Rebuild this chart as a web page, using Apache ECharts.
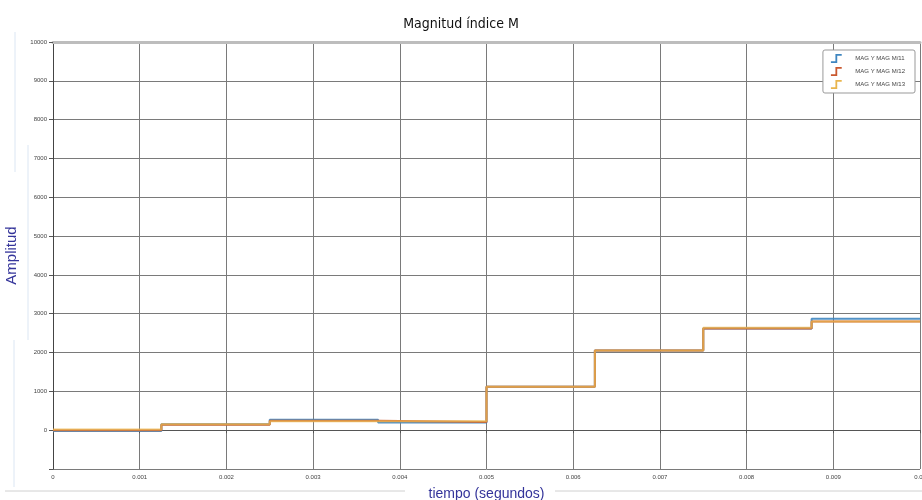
<!DOCTYPE html>
<html>
<head>
<meta charset="utf-8">
<script src="https://cdn.jsdelivr.net/npm/echarts@6/dist/echarts.min.js"></script>
<style>html,body{margin:0;padding:0;background:#fff}#c{width:922px;height:500px}</style>
</head>
<body>
<div id="c"></div>
<script>
// ---- data ----
const times = [0, 0.00125, 0.0025, 0.00375, 0.005, 0.00625, 0.0075, 0.00875, 0.01];
const seriesNames = ['MAG Y MAG M/11', 'MAG Y MAG M/12', 'MAG Y MAG M/13'];
const magM11 = [-20, 150, 270, 200, 1120, 2050, 2620, 2870, 2870];
const magM12 = [0, 140, 240, 210, 1120, 2050, 2620, 2800, 2800];
const magM13 = [20, 150, 230, 230, 1120, 2050, 2640, 2800, 2800];
const titleText = 'Magnitud índice M';
const xName = 'tiempo (segundos)';
const yName = 'Amplitud';

const colors = ['#3f86c0', '#c9582f', '#e9b54d'];
const allValues = [magM11, magM12, magM13];

const chart = echarts.init(document.getElementById('c'), null, {renderer: 'canvas'});
const stepIcon = 'path://M0,9 L5,9 L5,1 L12,1 L12,3 L7,3 L7,11 L0,11 Z';

chart.setOption({
  backgroundColor: '#fff',
  animation: false,
  color: colors,
  title: {
    text: titleText, left: 'center', top: 12,
    textStyle: {fontFamily: 'DejaVu Sans Condensed, Liberation Sans, Arial', fontSize: 14, fontWeight: 'normal', color: '#111'}
  },
  legend: {
    orient: 'vertical', right: 7, top: 50,
    backgroundColor: '#fff', borderColor: '#999', borderWidth: 1, borderRadius: 2,
    padding: [4, 10, 4, 8], itemGap: 4, itemWidth: 16, itemHeight: 9,
    icon: stepIcon,
    textStyle: {fontSize: 6, color: '#444', fontFamily: 'Liberation Sans, Arial', padding: [0, 0, 0, 6]},
    data: seriesNames
  },
  grid: {left: 53, right: 2, top: 42, bottom: 31, containLabel: false, outerBoundsMode: 'none'},
  xAxis: [{
    type: 'value', min: 0, max: 0.01, interval: 0.001,
    name: xName, nameLocation: 'middle', nameGap: 18,
    nameTextStyle: {fontSize: 14, color: '#34349a', fontFamily: 'Liberation Sans, Arial'},
    axisLine: {show: true, lineStyle: {color: '#555', width: 1}},
    axisTick: {show: true, length: 3, lineStyle: {color: '#555'}},
    axisLabel: {fontSize: 6, color: '#444', margin: 5,
      formatter: v => v === 0 ? '0' : parseFloat(v.toFixed(3)).toString()},
    splitLine: {show: true, lineStyle: {color: '#7a7a7a', width: 1}}
  }, {
    type: 'value', position: 'top', min: 0, max: 0.01,
    axisLine: {show: true, lineStyle: {color: '#bdbdbd', width: 3}},
    axisTick: {show: false}, axisLabel: {show: false}, splitLine: {show: false}
  }],
  yAxis: {
    type: 'value', min: -1000, max: 10000, interval: 1000,
    name: yName, nameLocation: 'middle', nameGap: 32, nameRotate: 90,
    nameTextStyle: {fontSize: 15, color: '#34349a', fontFamily: 'Liberation Sans, Arial'},
    axisLine: {show: true, lineStyle: {color: '#444', width: 1}},
    axisTick: {show: true, length: 4, lineStyle: {color: '#555'}},
    axisLabel: {fontSize: 6, color: '#444', margin: 6,
      formatter: v => v < 0 ? '' : String(v)},
    splitLine: {show: true, lineStyle: {color: '#7a7a7a', width: 1}}
  },
  graphic: [
    {type: 'line', shape: {x1: 15, y1: 32, x2: 15, y2: 172}, style: {stroke: '#dbe6f3', lineWidth: 1}, silent: true},
    {type: 'line', shape: {x1: 28, y1: 145, x2: 28, y2: 340}, style: {stroke: '#dbe6f3', lineWidth: 1}, silent: true},
    {type: 'line', shape: {x1: 14, y1: 340, x2: 14, y2: 487}, style: {stroke: '#dbe6f3', lineWidth: 1}, silent: true},
    {type: 'line', shape: {x1: 5, y1: 491, x2: 405, y2: 491}, style: {stroke: '#d0d0d0', lineWidth: 1}, silent: true},
    {type: 'line', shape: {x1: 555, y1: 491, x2: 922, y2: 491}, style: {stroke: '#d0d0d0', lineWidth: 1}, silent: true}
  ],
  series: allValues.map((vals, i) => ({
    name: seriesNames[i],
    type: 'line',
    step: 'end',
    showSymbol: false,
    xAxisIndex: 0,
    data: times.map((t, k) => [t, vals[k]]),
    lineStyle: {width: 2, color: colors[i], opacity: i === 2 ? 0.75 : 0.9},
    z: 3 + i
  }))
});
</script>
</body>
</html>
